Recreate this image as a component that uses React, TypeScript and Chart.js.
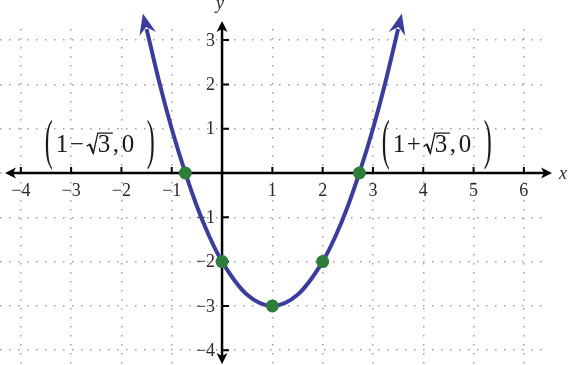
import { useEffect, useRef } from "react";
import { Chart, registerables } from "chart.js";
Chart.register(...registerables);

const xTicks = [-4, -3, -2, -1, 0, 1, 2, 3, 4, 5, 6];
const yTicks = [-4, -3, -2, -1, 0, 1, 2, 3];
const xTickLabels = ["−4", "−3", "−2", "−1", "", "1", "2", "3", "4", "5", "6"];
const yTickLabels = ["−4", "−3", "−2", "−1", "", "1", "2", "3"];

const curveX = [-1.5, -1.25, -1, -0.73, -0.5, -0.25, 0, 0.5, 1, 1.5, 2, 2.25, 2.5, 2.73, 3, 3.25, 3.5];
const curveY = [3.25, 2.06, 1, 0, -0.75, -1.44, -2, -2.75, -3, -2.75, -2, -1.44, -0.75, 0, 1, 2.06, 3.25];

const pointX = [-0.73, 0, 1, 2, 2.73];
const pointY = [0, -2, -3, -2, 0];

const labelX = [-2.4, 4.3];
const labelY = [0.47, 0.47];
const labelSigns = ["−", "+"];

const X_MIN = -4.414;
const X_MAX = 6.42;
const Y_MIN = -4.334;
const Y_MAX = 3.25;

const CURVE_COLOR = "#3c3c9c";
const POINT_COLOR = "#2e7d3a";
const SERIF = '"Liberation Serif", "Times New Roman", serif';

function stealth(ctx: CanvasRenderingContext2D, tx: number, ty: number, dx: number, dy: number, L: number, W: number, N: number) {
  const px = -dy, py = dx;
  const bx = tx - dx * L, by = ty - dy * L;
  ctx.beginPath();
  ctx.moveTo(tx, ty);
  ctx.lineTo(bx + px * W, by + py * W);
  ctx.lineTo(tx - dx * N, ty - dy * N);
  ctx.lineTo(bx - px * W, by - py * W);
  ctx.closePath();
  ctx.fill();
}

function drawRadicalLabel(ctx: CanvasRenderingContext2D, cx: number, by: number, sign: string) {
  const left = cx - 56.5;
  ctx.save();
  ctx.fillStyle = "#1a1a1a";
  ctx.strokeStyle = "#1a1a1a";
  ctx.textAlign = "left";
  ctx.textBaseline = "alphabetic";
  const parenCY = by - 8;
  const drawParen = (ch: string, x: number) => {
    ctx.save();
    ctx.translate(x, parenCY);
    ctx.scale(1, 2.25);
    ctx.font = `24px ${SERIF}`;
    ctx.fillText(ch, 0, 0.255 * 24);
    ctx.restore();
  };
  drawParen("(", left);
  ctx.font = `25px ${SERIF}`;
  ctx.fillText("1", left + 11, by);
  ctx.fillText(sign, left + 25, by);
  const rx = left + 42;
  ctx.lineWidth = 1.3;
  ctx.beginPath();
  ctx.moveTo(rx, by - 6);
  ctx.lineTo(rx + 3, by - 8);
  ctx.lineTo(rx + 6.5, by + 1);
  ctx.lineTo(rx + 11, by - 19);
  ctx.lineTo(rx + 26, by - 19);
  ctx.stroke();
  ctx.lineWidth = 2;
  ctx.beginPath();
  ctx.moveTo(rx + 3, by - 8);
  ctx.lineTo(rx + 6.5, by + 1);
  ctx.stroke();
  ctx.fillText("3", left + 53, by);
  ctx.fillText(",", left + 68, by);
  ctx.fillText("0", left + 77, by);
  drawParen(")", left + 102);
  ctx.restore();
}

const axesPlugin = {
  id: "axesPlugin",
  beforeDatasetsDraw(chart: any) {
    const { ctx, chartArea, scales } = chart;
    const xs = scales.x, ys = scales.y;
    const x0 = xs.getPixelForValue(0);
    const y0 = ys.getPixelForValue(0);
    ctx.save();
    ctx.strokeStyle = "#000";
    ctx.fillStyle = "#000";
    ctx.lineWidth = 2.5;
    const xl = chartArea.left + 5, xr = chartArea.right + 7;
    const yt = chartArea.top - 8, yb = chartArea.bottom - 1;
    ctx.beginPath();
    ctx.moveTo(xl + 6, y0);
    ctx.lineTo(xr - 6, y0);
    ctx.moveTo(x0, yt + 6);
    ctx.lineTo(x0, yb - 6);
    ctx.stroke();
    stealth(ctx, xr, y0, 1, 0, 11, 5.5, 8);
    stealth(ctx, xl, y0, -1, 0, 11, 5.5, 8);
    stealth(ctx, x0, yt, 0, -1, 11, 5.5, 8);
    stealth(ctx, x0, yb, 0, 1, 11, 5.5, 8);
    ctx.lineWidth = 2;
    ctx.beginPath();
    xTicks.forEach((v) => {
      if (v === 0) return;
      const px = xs.getPixelForValue(v);
      ctx.moveTo(px, y0);
      ctx.lineTo(px, y0 - 6);
    });
    yTicks.forEach((v) => {
      if (v === 0) return;
      const py = ys.getPixelForValue(v);
      ctx.moveTo(x0, py);
      ctx.lineTo(x0 + 7, py);
    });
    ctx.stroke();
    ctx.fillStyle = "#2a2a2a";
    ctx.font = `18px ${SERIF}`;
    ctx.textAlign = "center";
    ctx.textBaseline = "middle";
    xTicks.forEach((v, i) => {
      ctx.fillText(xTickLabels[i], xs.getPixelForValue(v), y0 + 18);
    });
    ctx.textAlign = "right";
    yTicks.forEach((v, i) => {
      ctx.fillText(yTickLabels[i], x0 - 7, ys.getPixelForValue(v) + 1);
    });
    ctx.font = `italic 18px ${SERIF}`;
    ctx.textAlign = "center";
    ctx.fillText("x", xr + 11, y0 + 1);
    ctx.fillText("y", x0 - 2, 4);
    labelX.forEach((lx, i) => {
      drawRadicalLabel(ctx, xs.getPixelForValue(lx), ys.getPixelForValue(labelY[i]), labelSigns[i]);
    });
    ctx.restore();
  },
  afterDatasetsDraw(chart: any) {
    const { ctx } = chart;
    const meta = chart.getDatasetMeta(1);
    const els = meta.data;
    if (!els || els.length < 2) return;
    ctx.save();
    ctx.fillStyle = CURVE_COLOR;
    const ends = [
      { p: els[els.length - 1], q: els[els.length - 2], cp: [els[els.length - 1].cp1x, els[els.length - 1].cp1y] },
      { p: els[0], q: els[1], cp: [els[0].cp2x, els[0].cp2y] },
    ];
    ends.forEach(({ p, q, cp }) => {
      let dx = p.x - (cp[0] ?? q.x);
      let dy = p.y - (cp[1] ?? q.y);
      let len = Math.hypot(dx, dy);
      if (!isFinite(len) || len < 0.5) {
        dx = p.x - q.x; dy = p.y - q.y; len = Math.hypot(dx, dy);
      }
      dx /= len; dy /= len;
      const tx = p.x + dx * 16, ty = p.y + dy * 16;
      stealth(ctx, tx, ty, dx, dy, 21, 8.5, 14);
    });
    ctx.restore();
  },
};

const zeroX = (s: any) => { s.height = 0; };
const zeroY = (s: any) => { s.width = 0; };

export default function App() {
  const ref = useRef<HTMLCanvasElement | null>(null);
  useEffect(() => {
    document.body.style.margin = "0";
    if (!ref.current) return;
    const chart = new Chart(ref.current, {
      type: "scatter",
      data: {
        datasets: [
          {
            data: pointX.map((x, i) => ({ x, y: pointY[i] })),
            pointRadius: 6.5,
            pointBackgroundColor: POINT_COLOR,
            pointBorderColor: POINT_COLOR,
            pointBorderWidth: 0,
            showLine: false,
            order: 0,
          },
          {
            data: curveX.map((x, i) => ({ x, y: curveY[i] })),
            showLine: true,
            borderColor: CURVE_COLOR,
            borderWidth: 4,
            pointRadius: 0,
            cubicInterpolationMode: "monotone",
            fill: false,
            clip: false,
            order: 1,
          } as any,
        ],
      },
      options: {
        responsive: false,
        animation: false,
        events: [],
        layout: { autoPadding: false, padding: { left: 0, right: 24, top: 29, bottom: 0 } },
        plugins: { legend: { display: false }, tooltip: { enabled: false } },
        scales: {
          x: {
            type: "linear",
            min: X_MIN,
            max: X_MAX,
            afterBuildTicks: (s: any) => { s.ticks = xTicks.map((v) => ({ value: v })); },
            afterFit: zeroX,
            ticks: { display: false, padding: 0 },
            grid: { color: "#a0a0a0", lineWidth: 1.5, drawTicks: false },
            border: { display: false, dash: [1.5, 7.5] },
          },
          y: {
            type: "linear",
            min: Y_MIN,
            max: Y_MAX,
            afterBuildTicks: (s: any) => { s.ticks = yTicks.map((v) => ({ value: v })); },
            afterFit: zeroY,
            ticks: { display: false, padding: 0 },
            grid: { color: "#a0a0a0", lineWidth: 1.5, drawTicks: false },
            border: { display: false, dash: [1.5, 7.5] },
          },
        },
      } as any,
      plugins: [axesPlugin],
    });
    return () => chart.destroy();
  }, []);
  return (
    <div style={{ position: "absolute", left: 0, top: 0, width: 569, height: 365, background: "#fff" }}>
      <canvas ref={ref} width={569} height={365} style={{ width: 569, height: 365 }} />
    </div>
  );
}
